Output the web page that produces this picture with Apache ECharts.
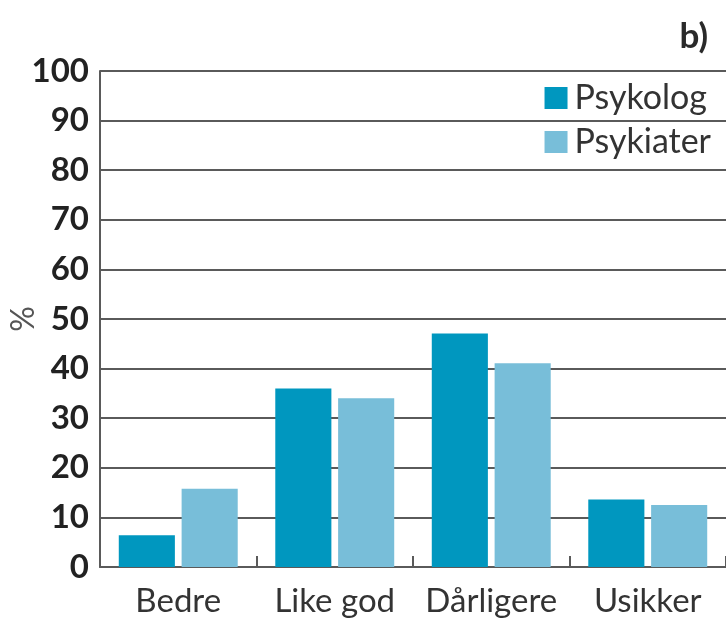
<!DOCTYPE html>
<html>
<head>
<meta charset="utf-8">
<script src="https://cdn.jsdelivr.net/npm/echarts@6/dist/echarts.min.js"></script>
<style>html,body{margin:0;padding:0;background:#fff}#c{width:726px;height:626px}</style>
</head>
<body>
<div id="c"></div>
<script>
const categories = ['Bedre', 'Like god', 'Dårligere', 'Usikker'];
const psykolog = [6.4, 36.0, 47.1, 13.6];
const psykiater = [15.8, 34.0, 41.1, 12.5];
const seriesNames = ['Psykolog', 'Psykiater'];

const chart = echarts.init(document.getElementById('c'), null, {renderer: 'canvas'});
chart.setOption({
  backgroundColor: '#fff',
  animation: false,
  title: {
    text: 'b)', right: 13, top: 14,
    textStyle: {fontFamily: 'Lato', fontSize: 35, fontWeight: 'bold', color: '#2a2a2a'}
  },
  legend: {
    orient: 'vertical', right: 10, top: 76,
    itemWidth: 23, itemHeight: 22, itemGap: 10,
    icon: 'rect',
    textStyle: {fontFamily: 'Lato', fontSize: 34, color: '#333', padding: [0, 0, 0, 2]},
    data: seriesNames
  },
  grid: {left: 100, right: 0, top: 71, bottom: 59, containLabel: false, outerBoundsMode: 'none'},
  xAxis: {
    type: 'category', data: categories,
    axisLine: {lineStyle: {color: '#5a5a5a', width: 2}},
    axisTick: {show: true, inside: true, length: 11, interval: 0, lineStyle: {color: '#5a5a5a', width: 2}},
    axisLabel: {fontFamily: 'Lato', fontSize: 33, color: '#333', margin: 18, interval: 0, hideOverlap: false}
  },
  yAxis: {
    type: 'value', min: 0, max: 100, interval: 10,
    name: '%', nameLocation: 'middle', nameGap: 60, nameRotate: 90, nameMoveOverlap: false,
    nameTextStyle: {fontFamily: 'Lato', fontSize: 32, color: '#555'},
    axisLine: {show: true, lineStyle: {color: '#5a5a5a', width: 2}},
    axisTick: {show: false},
    axisLabel: {fontFamily: 'Lato', fontSize: 33, fontWeight: 'bold', color: '#222', margin: 11},
    splitLine: {show: true, lineStyle: {color: '#5a5a5a', width: 2}}
  },
  series: [
    {name: seriesNames[0], type: 'bar', data: psykolog, barGap: '12%', barCategoryGap: '24%',
     itemStyle: {color: '#0097bf'}},
    {name: seriesNames[1], type: 'bar', data: psykiater,
     itemStyle: {color: '#78bed9'}}
  ]
});
</script>
</body>
</html>
